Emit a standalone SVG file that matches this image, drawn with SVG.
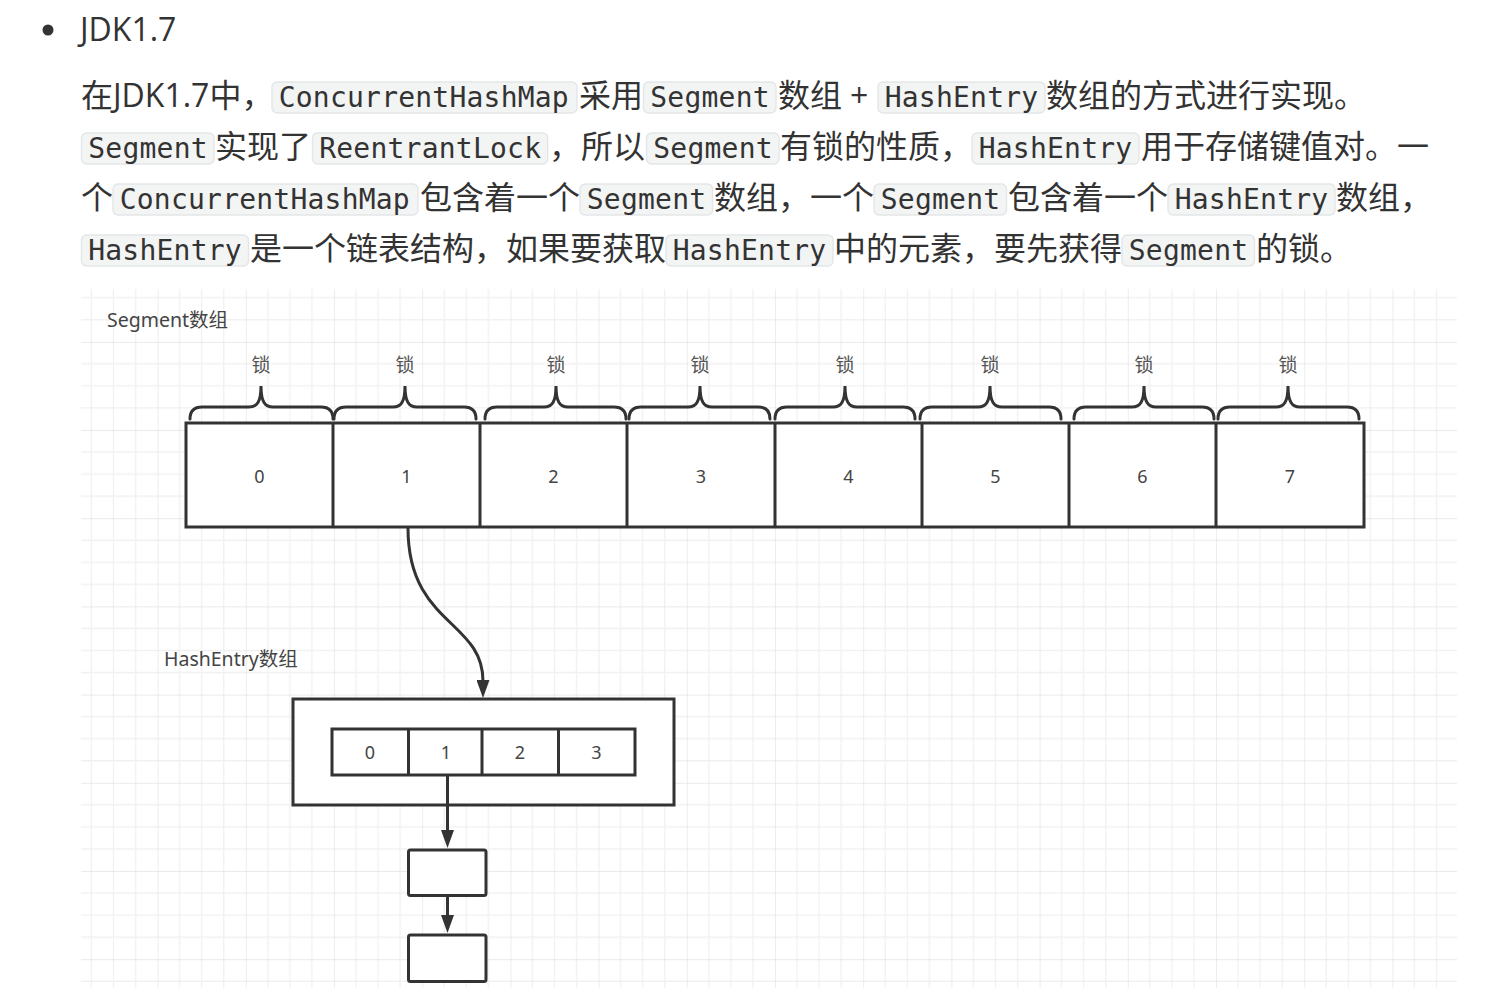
<svg xmlns="http://www.w3.org/2000/svg" width="1502" height="1003" viewBox="0 0 1502 1003">
<defs>
<style>
.body{font-family:"Open Sans","Noto Sans CJK SC",sans-serif;font-size:32px;fill:#333}
.code{font-family:"DejaVu Sans Mono","Liberation Mono",monospace;font-size:28px;fill:#333}
.cbox{fill:#f3f4f4;stroke:#e3e6e8;stroke-width:1.4}
.shape{fill:#fff;stroke:#333;stroke-width:3}
.line{fill:none;stroke:#333;stroke-width:3}
.brace{fill:none;stroke:#333;stroke-width:3;stroke-linecap:round}
.lbl{font-family:"Noto Sans","Noto Sans CJK SC",sans-serif;font-size:19.5px;fill:#444}
.lock{font-family:"Noto Sans CJK SC",sans-serif;font-size:19px;fill:#555;text-anchor:middle}
.num{font-family:"Noto Sans","Open Sans",sans-serif;font-size:18px;fill:#444;text-anchor:middle}
.minor{stroke:#f1f1f1;stroke-width:1.3}
.major{stroke:#e3e3e3;stroke-width:1.3}
</style>
<pattern id="grid" x="69.4" y="253.6" width="88.2" height="88.2" patternUnits="userSpaceOnUse">
<path class="minor" d="M22.05 0V88.2M44.1 0V88.2M66.15 0V88.2M0 22.05H88.2M0 44.1H88.2M0 66.15H88.2"/>
<path class="major" d="M0 0V88.2M0 0H88.2"/>
</pattern>
<marker id="arr" markerWidth="18" markerHeight="13" refX="1" refY="6.5" orient="auto" markerUnits="userSpaceOnUse" viewBox="0 0 18 13">
<path d="M0 0L18 6.5L0 13Z" fill="#333"/>
</marker>
</defs>
<rect width="1502" height="1003" fill="#fff"/>

<g id="text">
<circle cx="48" cy="30" r="5.5" fill="#333"/>
<text class="body" x="80" y="41">JDK1.7</text>

<rect class="cbox" x="272" y="82" width="305" height="31" rx="5"/>
<rect class="cbox" x="643.5" y="82" width="132.5" height="31" rx="5"/>
<rect class="cbox" x="878" y="82" width="167" height="31" rx="5"/>
<text class="body" x="81" y="107">在JDK1.7中，</text>
<text class="code" x="278.7" y="107" textLength="290">ConcurrentHashMap</text>
<text class="body" x="579" y="107">采用</text>
<text class="code" x="650.2" y="107" textLength="119.4">Segment</text>
<text class="body" x="778" y="107">数组</text>
<text class="body" x="850" y="107">+</text>
<text class="code" x="884.7" y="107" textLength="153.5">HashEntry</text>
<text class="body" x="1046" y="107">数组的方式进行实现。</text>

<rect class="cbox" x="81.5" y="133" width="132.5" height="31" rx="5"/>
<rect class="cbox" x="312.5" y="133" width="235.2" height="31" rx="5"/>
<rect class="cbox" x="646.5" y="133" width="132.5" height="31" rx="5"/>
<rect class="cbox" x="972" y="133" width="167" height="31" rx="5"/>
<text class="code" x="88.2" y="158" textLength="119.4">Segment</text>
<text class="body" x="215" y="158">实现了</text>
<text class="code" x="319.2" y="158" textLength="221.8">ReentrantLock</text>
<text class="body" x="549" y="158">，</text>
<text class="body" x="581" y="158">所以</text>
<text class="code" x="653.2" y="158" textLength="119.4">Segment</text>
<text class="body" x="780" y="158">有锁的性质，</text>
<text class="code" x="978.7" y="158" textLength="153.5">HashEntry</text>
<text class="body" x="1141" y="158">用于存储键值对。一</text>

<rect class="cbox" x="113" y="184" width="305" height="31" rx="5"/>
<rect class="cbox" x="580" y="184" width="132.5" height="31" rx="5"/>
<rect class="cbox" x="874" y="184" width="132.5" height="31" rx="5"/>
<rect class="cbox" x="1168" y="184" width="167" height="31" rx="5"/>
<text class="body" x="81" y="209">个</text>
<text class="code" x="119.7" y="209" textLength="290">ConcurrentHashMap</text>
<text class="body" x="420" y="209">包含着一个</text>
<text class="code" x="586.7" y="209" textLength="119.4">Segment</text>
<text class="body" x="714" y="209">数组，一个</text>
<text class="code" x="880.7" y="209" textLength="119.4">Segment</text>
<text class="body" x="1008" y="209">包含着一个</text>
<text class="code" x="1174.7" y="209" textLength="153.5">HashEntry</text>
<text class="body" x="1336" y="209">数组，</text>

<rect class="cbox" x="81.5" y="235" width="167" height="31" rx="5"/>
<rect class="cbox" x="666" y="235" width="167" height="31" rx="5"/>
<rect class="cbox" x="1122" y="235" width="132.5" height="31" rx="5"/>
<text class="code" x="88.2" y="260" textLength="153.5">HashEntry</text>
<text class="body" x="250" y="260">是一个链表结构，如果要获取</text>
<text class="code" x="672.7" y="260" textLength="153.5">HashEntry</text>
<text class="body" x="834" y="260">中的元素，要先获得</text>
<text class="code" x="1128.7" y="260" textLength="119.4">Segment</text>
<text class="body" x="1256" y="260">的锁。</text>
</g>

<rect id="grid-bg" x="81" y="289" width="1376" height="699" fill="url(#grid)"/>

<g id="segment-label"><text class="lbl" x="107" y="327">Segment数组</text></g>
<g id="hashentry-label"><text class="lbl" x="164" y="666" font-size="18.5">HashEntry数组</text></g>

<g id="locks">
<path class="brace" d="M190 419Q190 407 202 407H249C257 407 261 402 261 386C261 402 265 407 273 407H321Q333 407 333 419"/>
<path class="brace" d="M334 419Q334 407 346 407H393C401 407 405 402 405 386C405 402 409 407 417 407H464Q476 407 476 419"/>
<path class="brace" d="M485 419Q485 407 497 407H544C552 407 556 402 556 386C556 402 560 407 568 407H614Q626 407 626 419"/>
<path class="brace" d="M629 419Q629 407 641 407H688C696 407 700 402 700 386C700 402 704 407 712 407H758Q770 407 770 419"/>
<path class="brace" d="M775 419Q775 407 787 407H833C841 407 845 402 845 386C845 402 849 407 857 407H903Q915 407 915 419"/>
<path class="brace" d="M920 419Q920 407 932 407H978C986 407 990 402 990 386C990 402 994 407 1002 407H1049Q1061 407 1061 419"/>
<path class="brace" d="M1074 419Q1074 407 1086 407H1132C1140 407 1144 402 1144 386C1144 402 1148 407 1156 407H1202Q1214 407 1214 419"/>
<path class="brace" d="M1218 419Q1218 407 1230 407H1276C1284 407 1288 402 1288 386C1288 402 1292 407 1300 407H1347Q1359 407 1359 419"/>
<text class="lock" x="261" y="372">锁</text>
<text class="lock" x="405" y="372">锁</text>
<text class="lock" x="556" y="372">锁</text>
<text class="lock" x="700" y="372">锁</text>
<text class="lock" x="845" y="372">锁</text>
<text class="lock" x="990" y="372">锁</text>
<text class="lock" x="1144" y="372">锁</text>
<text class="lock" x="1288" y="372">锁</text>
</g>

<g id="segment-array">
<rect class="shape" x="186" y="423" width="1178" height="104"/>
<path class="line" d="M333 423V527M480 423V527M627 423V527M775 423V527M922 423V527M1069 423V527M1216 423V527"/>
<text class="num" x="259.5" y="483">0</text>
<text class="num" x="406.5" y="483">1</text>
<text class="num" x="553.5" y="483">2</text>
<text class="num" x="701" y="483">3</text>
<text class="num" x="848.5" y="483">4</text>
<text class="num" x="995.5" y="483">5</text>
<text class="num" x="1142.5" y="483">6</text>
<text class="num" x="1290" y="483">7</text>
</g>

<g id="hashentry-array">
<rect class="shape" x="293" y="699" width="381" height="106"/>
<rect class="shape" x="332" y="729" width="303" height="46"/>
<path class="line" d="M408.5 729V775M482 729V775M558.5 729V775"/>
<text class="num" x="370" y="759">0</text>
<text class="num" x="446" y="759">1</text>
<text class="num" x="520" y="759">2</text>
<text class="num" x="596.5" y="759">3</text>
</g>

<g id="entry-1"><rect class="shape" x="408.5" y="850" width="77.5" height="45.5" rx="2"/></g>
<g id="entry-2"><rect class="shape" x="408.5" y="935" width="77.5" height="46.5" rx="2"/></g>

<g id="connectors">
<path class="line" d="M408 528C408 625 483 620 483 681" marker-end="url(#arr)"/>
<path class="line" d="M447.5 775V831" marker-end="url(#arr)"/>
<path class="line" d="M447.5 897V916" marker-end="url(#arr)"/>
</g>
</svg>
